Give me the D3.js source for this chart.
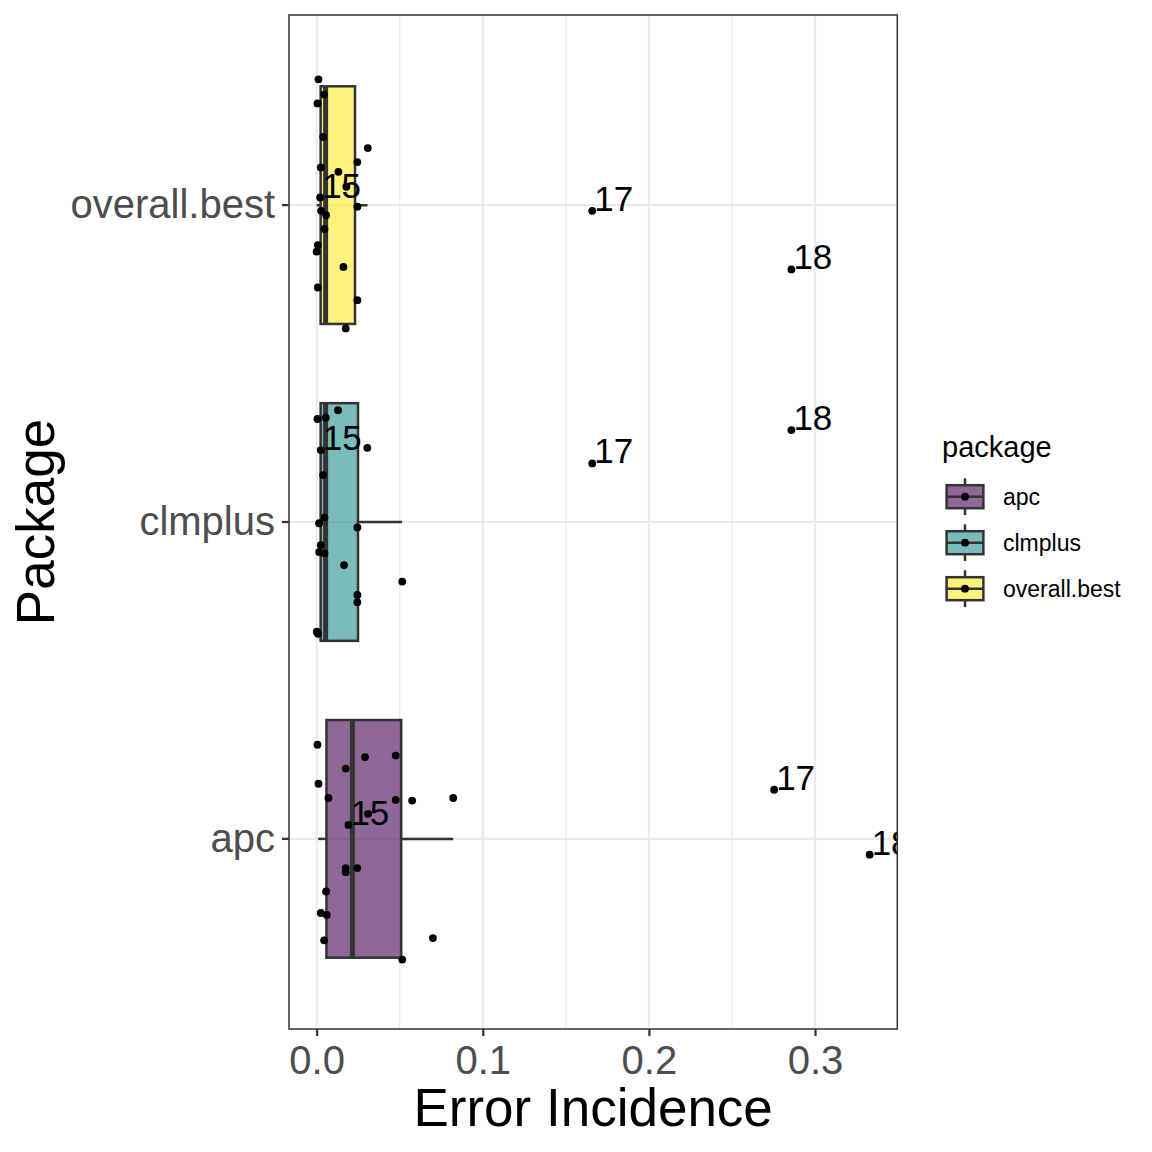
<!DOCTYPE html>
<html>
<head>
<meta charset="utf-8">
<script src="https://cdn.jsdelivr.net/npm/d3@7"></script>
<style>
    body { margin: 0; background: #ffffff; }
    svg { display: block; font-family: "Liberation Sans", Arial, sans-serif; }
</style>
</head>
<body>
<script>
// Packages (bottom to top on the y axis)
var categories = ["apc", "clmplus", "overall.best"];

// Boxplot summaries
var boxLow = [0.0009, 0.0, 0.0];
var boxQ1 = [0.0059, 0.0024, 0.0024];
var boxMedian = [0.0215, 0.0054, 0.0054];
var boxQ3 = [0.0509, 0.0249, 0.0231];
var boxHigh = [0.0822, 0.0514, 0.0306];

// Jittered points: error incidence, vertical jitter (fraction of a category step, + is down), label
var apcValues = [0.0005, 0.0291, 0.0476, 0.0175, 0.0011, 0.0071, 0.0476, 0.0575, 0.0822, 0.0309,
    0.0191, 0.0175, 0.0175, 0.0245, 0.0057, 0.0025, 0.0061, 0.0700, 0.0045, 0.0515, 0.2754, 0.3329];
var apcJitter = [-0.297, -0.258, -0.263, -0.222, -0.174, -0.129, -0.123, -0.121, -0.129, -0.079,
    -0.044, 0.092, 0.105, 0.092, 0.166, 0.234, 0.240, 0.313, 0.320, 0.381, -0.155, 0.050];
var apcLabels = ["", "", "", "", "", "", "", "", "", "",
    "15", "", "", "", "", "", "", "", "", "", "17", "18"];

var clmplusValues = [0.0129, 0.0005, 0.0055, 0.0025, 0.0305, 0.0039, 0.0047, 0.0015, 0.0245, 0.0025,
    0.0015, 0.0047, 0.0165, 0.0515, 0.0245, 0.0245, 0.0001, 0.0009, 0.1659, 0.2858];
var clmplusJitter = [-0.353, -0.325, -0.329, -0.227, -0.234, -0.148, -0.014, 0.004, 0.017, 0.073,
    0.095, 0.099, 0.136, 0.188, 0.230, 0.253, 0.346, 0.353, -0.185, -0.290];
var clmplusLabels = ["", "", "", "15", "", "", "", "", "", "",
    "", "", "", "", "", "", "", "", "17", "18"];

var bestValues = [0.0011, 0.0045, 0.0005, 0.0039, 0.0308, 0.0245, 0.0025, 0.0131, 0.0179, 0.0021,
    0.0027, 0.0057, 0.0245, 0.0047, 0.0007, 0.0000, 0.0161, 0.0007, 0.0245, 0.0175, 0.1659, 0.2858];
var bestJitter = [-0.397, -0.349, -0.321, -0.215, -0.180, -0.136, -0.119, -0.105, -0.058, -0.024,
    0.018, 0.032, 0.005, 0.075, 0.126, 0.147, 0.195, 0.260, 0.300, 0.389, 0.018, 0.203];
var bestLabels = ["", "", "", "", "", "", "", "", "", "15",
    "", "", "", "", "", "", "", "", "", "", "17", "18"];

var xTicks = [0, 0.1, 0.2, 0.3];
var xMinor = [0.05, 0.15, 0.25];

// Viridis fills, drawn with alpha
var fillColors = ["#440154", "#21908C", "#FDE725"];

(function () {
    var width = 1152, height = 1152;
    var panel = { left: 289, right: 897.3, top: 15, bottom: 1029 };

    var svg = d3.select("body").append("svg")
        .attr("width", width)
        .attr("height", height);

    svg.append("rect")
        .attr("width", width)
        .attr("height", height)
        .attr("fill", "#ffffff");

    // Flatten point layers
    var groups = [
        { pkg: "apc", values: apcValues, jitter: apcJitter, labels: apcLabels },
        { pkg: "clmplus", values: clmplusValues, jitter: clmplusJitter, labels: clmplusLabels },
        { pkg: "overall.best", values: bestValues, jitter: bestJitter, labels: bestLabels }
    ];
    var points = [];
    groups.forEach(function (g) {
        g.values.forEach(function (v, i) {
            points.push({ pkg: g.pkg, value: v, jitter: g.jitter[i], label: g.labels[i] });
        });
    });

    // x scale with 5% expansion like ggplot
    var ext = d3.extent(points, function (d) { return d.value; });
    var pad = (ext[1] - ext[0]) * 0.05;
    var x = d3.scaleLinear()
        .domain([ext[0] - pad, ext[1] + pad])
        .range([panel.left, panel.right]);

    // discrete y scale, 0.6 expansion each side
    var y = d3.scaleBand()
        .domain(categories)
        .range([panel.bottom, panel.top])
        .paddingInner(0)
        .paddingOuter(0.1);
    var step = y.step();
    function yc(c) { return y(c) + y.bandwidth() / 2; }

    svg.append("clipPath")
        .attr("id", "panel-clip")
        .append("rect")
        .attr("x", panel.left)
        .attr("y", panel.top)
        .attr("width", panel.right - panel.left)
        .attr("height", panel.bottom - panel.top);

    var plot = svg.append("g").attr("clip-path", "url(#panel-clip)");

    // Grid lines
    plot.selectAll(".minor")
        .data(xMinor)
        .enter()
        .append("line")
        .attr("x1", function (d) { return x(d); })
        .attr("x2", function (d) { return x(d); })
        .attr("y1", panel.top)
        .attr("y2", panel.bottom)
        .attr("stroke", "#ebebeb")
        .attr("stroke-width", 1.1);

    plot.selectAll(".major")
        .data(xTicks)
        .enter()
        .append("line")
        .attr("x1", function (d) { return x(d); })
        .attr("x2", function (d) { return x(d); })
        .attr("y1", panel.top)
        .attr("y2", panel.bottom)
        .attr("stroke", "#ebebeb")
        .attr("stroke-width", 2.2);

    plot.selectAll(".hmajor")
        .data(categories)
        .enter()
        .append("line")
        .attr("x1", panel.left)
        .attr("x2", panel.right)
        .attr("y1", function (d) { return yc(d); })
        .attr("y2", function (d) { return yc(d); })
        .attr("stroke", "#ebebeb")
        .attr("stroke-width", 2.2);

    // Boxplots
    var boxH = step * 0.75;
    var boxes = plot.selectAll(".box")
        .data(categories)
        .enter()
        .append("g")
        .attr("class", "box");

    boxes.append("line")
        .attr("x1", function (d, i) { return x(boxLow[i]); })
        .attr("x2", function (d, i) { return x(boxQ1[i]); })
        .attr("y1", function (d) { return yc(d); })
        .attr("y2", function (d) { return yc(d); })
        .attr("stroke", "#333333")
        .attr("stroke-width", 2.5);

    boxes.append("line")
        .attr("x1", function (d, i) { return x(boxQ3[i]); })
        .attr("x2", function (d, i) { return x(boxHigh[i]); })
        .attr("y1", function (d) { return yc(d); })
        .attr("y2", function (d) { return yc(d); })
        .attr("stroke", "#333333")
        .attr("stroke-width", 2.5);

    boxes.append("rect")
        .attr("x", function (d, i) { return x(boxQ1[i]); })
        .attr("width", function (d, i) { return x(boxQ3[i]) - x(boxQ1[i]); })
        .attr("y", function (d) { return yc(d) - boxH / 2; })
        .attr("height", boxH)
        .attr("fill", function (d, i) { return fillColors[i]; })
        .attr("fill-opacity", 0.6)
        .attr("stroke", "#333333")
        .attr("stroke-width", 2.5);

    boxes.append("line")
        .attr("x1", function (d, i) { return x(boxMedian[i]); })
        .attr("x2", function (d, i) { return x(boxMedian[i]); })
        .attr("y1", function (d) { return yc(d) - boxH / 2; })
        .attr("y2", function (d) { return yc(d) + boxH / 2; })
        .attr("stroke", "#333333")
        .attr("stroke-width", 5);

    // Jittered points
    plot.selectAll(".pt")
        .data(points)
        .enter()
        .append("circle")
        .attr("cx", function (d) { return x(d.value); })
        .attr("cy", function (d) { return yc(d.pkg) + d.jitter * step; })
        .attr("r", 3.9)
        .attr("fill", "#000000");

    // Point labels
    plot.selectAll(".lbl")
        .data(points.filter(function (d) { return d.label !== ""; }))
        .enter()
        .append("text")
        .attr("x", function (d) { return x(d.value) + 2; })
        .attr("y", function (d) { return yc(d.pkg) + d.jitter * step; })
        .attr("font-size", 35)
        .attr("fill", "#000000")
        .text(function (d) { return d.label; });

    // Panel border
    svg.append("rect")
        .attr("x", panel.left)
        .attr("y", panel.top)
        .attr("width", panel.right - panel.left)
        .attr("height", panel.bottom - panel.top)
        .attr("fill", "none")
        .attr("stroke", "#333333")
        .attr("stroke-width", 1.5);

    // Axes
    var xAxis = svg.append("g")
        .attr("transform", "translate(0," + panel.bottom + ")")
        .call(d3.axisBottom(x).tickValues(xTicks).tickFormat(d3.format(".1f")).tickSize(7).tickPadding(10));
    xAxis.select(".domain").remove();
    xAxis.selectAll(".tick line").attr("stroke", "#333333").attr("stroke-width", 2.2);
    xAxis.selectAll(".tick text")
        .attr("font-size", 40)
        .attr("fill", "#4d4d4d")
        .attr("font-family", "Liberation Sans, Arial, sans-serif");

    var yAxis = svg.append("g")
        .attr("transform", "translate(" + panel.left + ",0)")
        .call(d3.axisLeft(y).tickSize(7).tickPadding(7));
    yAxis.select(".domain").remove();
    yAxis.selectAll(".tick line").attr("stroke", "#333333").attr("stroke-width", 2.2);
    yAxis.selectAll(".tick text")
        .attr("font-size", 40)
        .attr("fill", "#4d4d4d")
        .attr("font-family", "Liberation Sans, Arial, sans-serif");

    // Axis titles
    svg.append("text")
        .attr("x", (panel.left + panel.right) / 2)
        .attr("y", 1126)
        .attr("text-anchor", "middle")
        .attr("font-size", 53)
        .attr("fill", "#000000")
        .text("Error Incidence");

    svg.append("text")
        .attr("transform", "translate(54," + (panel.top + panel.bottom) / 2 + ") rotate(-90)")
        .attr("text-anchor", "middle")
        .attr("font-size", 53)
        .attr("fill", "#000000")
        .text("Package");

    // Legend
    var legend = svg.append("g").attr("transform", "translate(942,0)");
    legend.append("text")
        .attr("x", 0)
        .attr("y", 457)
        .attr("font-size", 29)
        .attr("fill", "#000000")
        .text("package");

    var keySize = 46;
    var keys = legend.selectAll(".key")
        .data(categories)
        .enter()
        .append("g")
        .attr("transform", function (d, i) { return "translate(0," + (473.7 + i * keySize) + ")"; });

    keys.append("line")
        .attr("x1", keySize / 2).attr("x2", keySize / 2)
        .attr("y1", keySize * 0.1).attr("y2", keySize * 0.9)
        .attr("stroke", "#333333").attr("stroke-width", 2.5);
    keys.append("rect")
        .attr("x", keySize * 0.1)
        .attr("y", keySize * 0.25)
        .attr("width", keySize * 0.8)
        .attr("height", keySize * 0.5)
        .attr("fill", "#ffffff")
        .attr("stroke", "none");
    keys.append("rect")
        .attr("x", keySize * 0.1)
        .attr("y", keySize * 0.25)
        .attr("width", keySize * 0.8)
        .attr("height", keySize * 0.5)
        .attr("fill", function (d, i) { return fillColors[i]; })
        .attr("fill-opacity", 0.6)
        .attr("stroke", "#333333")
        .attr("stroke-width", 2.5);
    keys.append("line")
        .attr("x1", keySize * 0.1).attr("x2", keySize * 0.9)
        .attr("y1", keySize / 2).attr("y2", keySize / 2)
        .attr("stroke", "#333333").attr("stroke-width", 2.5);
    keys.append("circle")
        .attr("cx", keySize / 2)
        .attr("cy", keySize / 2)
        .attr("r", 3.9)
        .attr("fill", "#000000");
    keys.append("text")
        .attr("x", 61)
        .attr("y", keySize / 2 + 8)
        .attr("font-size", 23)
        .attr("fill", "#000000")
        .text(function (d) { return d; });
})();
</script>
</body>
</html>
